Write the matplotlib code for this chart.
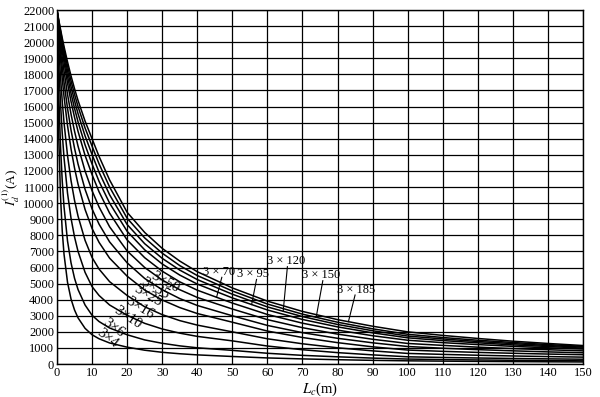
import numpy as np
import matplotlib
matplotlib.use("Agg")
from matplotlib import pyplot as plt

plt.rcParams["font.family"] = ["Liberation Serif", "DejaVu Serif"]
plt.rcParams["mathtext.fontset"] = "stix"

# cable length (m)
lengths = [0, 0.5, 1, 1.5, 2, 3, 4, 5, 6, 8, 10, 12, 15, 20, 25, 30, 35, 40,
           50, 60, 70, 80, 90, 100, 110, 120, 130, 140, 150]

# single phase short circuit current (A), one list per cable section
i_3x4 = [22000, 14140, 10420, 8250, 6830, 5080, 4040, 3360, 2870, 2220, 1820, 1570, 1310, 1050,
         860, 730, 640, 570, 470, 380, 320, 270, 230, 200, 181, 165, 152, 140, 130]
i_3x6 = [22000, 16760, 13540, 11350, 9780, 7650, 6290, 5330, 4630, 3670, 3030, 2640, 2240, 1820,
         1500, 1290, 1130, 1010, 850, 670, 540, 450, 370, 310, 280, 255, 234, 216, 200]
i_3x10 = [22000, 18660, 16210, 14320, 12830, 10620, 9060, 7900, 7000, 5700, 4810, 4260, 3670, 3030,
          2530, 2180, 1920, 1720, 1440, 1120, 890, 710, 570, 450, 410, 376, 347, 322, 300]
i_3x16 = [22000, 19710, 17850, 16310, 15010, 12960, 11400, 10170, 9190, 7690, 6620, 5900, 5120, 4260,
          3560, 3070, 2700, 2420, 2000, 1570, 1260, 1010, 820, 660, 600, 547, 502, 464, 430]
i_3x25 = [22000, 20360, 18950, 17710, 16630, 14820, 13370, 12180, 11180, 9610, 8420, 7560, 6580, 5460,
          4600, 3980, 3510, 3140, 2600, 2050, 1650, 1330, 1070, 870, 790, 724, 669, 621, 580]
i_3x35 = [22000, 20670, 19500, 18450, 17510, 15890, 14540, 13410, 12430, 10860, 9640, 8690, 7590, 6290,
          5320, 4620, 4070, 3640, 3000, 2400, 1950, 1600, 1320, 1090, 983, 895, 821, 756, 700]
i_3x50 = [22000, 20910, 19920, 19030, 18210, 16760, 15530, 14470, 13540, 12000, 10770, 9760, 8530, 7030,
          6000, 5220, 4620, 4140, 3420, 2760, 2260, 1860, 1540, 1280, 1160, 1050, 960, 890, 820]
i_3x70 = [22000, 21080, 20240, 19460, 18740, 17450, 16320, 15330, 14460, 12970, 11770, 10700, 9380, 7710,
          6610, 5770, 5110, 4590, 3790, 3080, 2540, 2110, 1760, 1480, 1330, 1210, 1100, 1010, 930]
i_3x95 = [22000, 21190, 20430, 19720, 19070, 17880, 16820, 15890, 15050, 13620, 12430, 11350, 10000, 8250,
          7100, 6220, 5530, 4970, 4110, 3360, 2770, 2310, 1940, 1630, 1460, 1320, 1190, 1090, 990]
i_3x120 = [22000, 21270, 20580, 19940, 19330, 18230, 17240, 16360, 15560, 14180, 13020, 11920, 10520, 8670,
           7480, 6570, 5840, 5250, 4340, 3550, 2950, 2460, 2070, 1740, 1560, 1400, 1270, 1150, 1050]
i_3x150 = [22000, 21330, 20710, 20110, 19560, 18530, 17600, 16760, 16000, 14670, 13540, 12440, 11000, 9060,
           7840, 6890, 6120, 5500, 4540, 3730, 3100, 2600, 2190, 1850, 1650, 1480, 1340, 1210, 1100]
i_3x185 = [22000, 21390, 20810, 20260, 19740, 18780, 17910, 17110, 16380, 15100, 14000, 12900, 11440, 9430,
           8180, 7190, 6400, 5740, 4730, 3910, 3270, 2760, 2350, 2000, 1780, 1590, 1420, 1280, 1150]

curves = [i_3x4, i_3x6, i_3x10, i_3x16, i_3x25, i_3x35, i_3x50,
          i_3x70, i_3x95, i_3x120, i_3x150, i_3x185]

# labels written along the small section curves: text, x, y, angle
inline_labels = [("3×4", 14.3, 1620, -38), ("3×6", 16.1, 2270, -36),
                 ("3×10", 20.1, 2920, -34), ("3×16", 23.7, 3480, -32),
                 ("3×25", 26.0, 4230, -31), ("3×35", 27.9, 4720, -30),
                 ("3×50", 30.9, 5100, -29)]

# labels with leader lines: text, text pos, leader start, leader end L, curve
leader_labels = [("3 × 70", 46.2, 5700, 47.0, 5390, 45.5, i_3x70),
                 ("3 × 95", 56.0, 5610, 56.9, 5260, 55.5, i_3x95),
                 ("3 × 120", 65.2, 6380, 65.7, 6050, 64.5, i_3x120),
                 ("3 × 150", 75.3, 5530, 75.8, 5180, 73.9, i_3x150),
                 ("3 × 185", 85.4, 4600, 85.0, 4290, 83.1, i_3x185)]

fig = plt.figure(figsize=(6.0, 3.97), dpi=100)
ax = fig.add_axes([0.095, 0.083, 0.8767, 0.8917])

for curve in curves:
    ax.plot(lengths, curve, color="black", lw=1.1, solid_joinstyle="round")

for text, x, y, ang in inline_labels:
    ax.text(x, y, text, fontsize=10.5, rotation=ang, ha="center", va="center",
            rotation_mode="anchor")

for text, tx, ty, sx, sy, ex, curve in leader_labels:
    ax.text(tx, ty, text, fontsize=9, ha="center", va="center")
    ey = np.interp(ex, lengths, curve)
    ax.plot([sx, ex], [sy, ey], color="black", lw=0.8)

ax.set_xlim(0, 150)
ax.set_ylim(0, 22000)
ax.set_xticks(np.arange(0, 151, 10))
ax.set_yticks(np.arange(0, 22001, 1000))
ax.grid(True, color="black", lw=0.9)
ax.set_axisbelow(True)
ax.tick_params(length=0, labelsize=9, pad=2)
for sp in ax.spines.values():
    sp.set_linewidth(1.0)

ax.set_xlabel("$L_c$(m)", fontsize=10.5)
ax.set_ylabel("$I_d^{(1)}$(A)", fontsize=9.5)
ax.xaxis.set_label_coords(0.5, -0.047)
ax.yaxis.set_label_coords(-0.067, 0.5)

fig.savefig("out.png", dpi=100)
